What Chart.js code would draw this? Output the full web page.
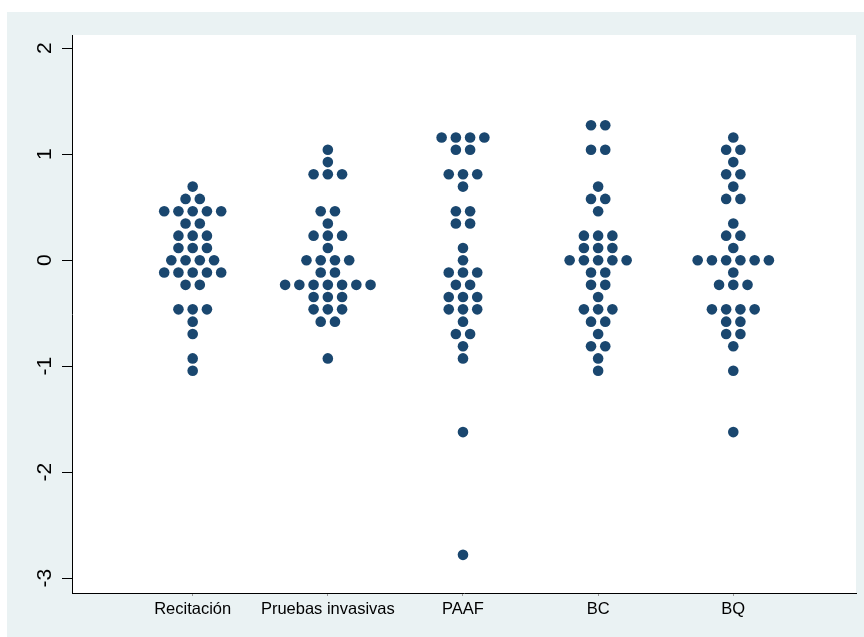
<!DOCTYPE html>
<html lang="es">
<head>
<meta charset="UTF-8">
<title>Dot plot</title>
<script src="https://cdn.jsdelivr.net/npm/chart.js"></script>
<style>
    body { margin: 0; background: #fff; }
    canvas { display: block; }
</style>
</head>
<body>
<canvas id="dotChart" width="864" height="637"></canvas>
<script>
    // categories along the x axis
    const categories = ['Recitación', 'Pruebas invasivas', 'PAAF', 'BC', 'BQ'];

    const recitacion = [
        0.695, 0.579, 0.579,
        0.463, 0.463, 0.463, 0.463, 0.463,
        0.347, 0.347, 0.232, 0.232, 0.232, 0.116, 0.116, 0.116,
        0, 0, 0, 0,
        -0.116, -0.116, -0.116, -0.116, -0.116,
        -0.232, -0.232, -0.463, -0.463, -0.463,
        -0.579, -0.695, -0.926, -1.042
    ];
    const pruebas = [
        1.042, 0.926, 0.811, 0.811, 0.811,
        0.463, 0.463, 0.347, 0.232, 0.232, 0.232, 0.116,
        0, 0, 0, 0,
        -0.116, -0.116,
        -0.232, -0.232, -0.232, -0.232, -0.232, -0.232, -0.232,
        -0.347, -0.347, -0.347, -0.463, -0.463, -0.463,
        -0.579, -0.579, -0.926
    ];
    const paaf = [
        1.158, 1.158, 1.158, 1.158, 1.042, 1.042,
        0.811, 0.811, 0.811, 0.695,
        0.463, 0.463, 0.347, 0.347, 0.116, 0,
        -0.116, -0.116, -0.116, -0.232, -0.232,
        -0.347, -0.347, -0.347, -0.463, -0.463, -0.463,
        -0.579, -0.695, -0.695, -0.811, -0.926,
        -1.621, -2.779
    ];
    const bc = [
        1.274, 1.274, 1.042, 1.042,
        0.695, 0.579, 0.579, 0.463,
        0.232, 0.232, 0.232, 0.116, 0.116, 0.116,
        0, 0, 0, 0, 0,
        -0.116, -0.116, -0.232, -0.232, -0.347,
        -0.463, -0.463, -0.463, -0.579, -0.579,
        -0.695, -0.811, -0.811, -0.926, -1.042
    ];
    const bq = [
        1.158, 1.042, 1.042, 0.926, 0.811, 0.811, 0.695, 0.579, 0.579,
        0.347, 0.232, 0.232, 0.116,
        0, 0, 0, 0, 0, 0,
        -0.116, -0.232, -0.232, -0.232,
        -0.463, -0.463, -0.463, -0.463,
        -0.579, -0.579, -0.695, -0.695, -0.811, -1.042, -1.621
    ];
    const groups = [recitacion, pruebas, paaf, bc, bq];

    const yTicks = [-3, -2, -1, 0, 1, 2];

    // dotplot layout: identical values side by side, centred on the category
    const dotStep = 0.1054;
    function dotsFor(values, pos) {
        const counts = {};
        values.forEach(v => { counts[v] = (counts[v] || 0) + 1; });
        const seen = {};
        return values.map(v => {
            const j = seen[v] || 0;
            seen[v] = j + 1;
            return { x: pos + (j - (counts[v] - 1) / 2) * dotStep, y: v };
        });
    }

    const datasets = groups.map((g, i) => ({
        label: categories[i],
        data: dotsFor(g, i + 1),
        backgroundColor: '#1a476f',
        borderWidth: 0,
        pointRadius: 5.3,
        pointHoverRadius: 5.3
    }));

    const background = {
        id: 'background',
        beforeDraw(chart) {
            const { ctx, chartArea: a } = chart;
            ctx.save();
            ctx.fillStyle = '#ffffff';
            ctx.fillRect(0, 0, chart.width, chart.height);
            ctx.fillStyle = '#eaf2f3';
            ctx.fillRect(7, 12, chart.width - 7, chart.height - 12);
            ctx.fillStyle = '#ffffff';
            ctx.fillRect(a.left, a.top, a.right - a.left, a.bottom - a.top);
            ctx.restore();
        }
    };

    const family = 'Arial, "Liberation Sans", sans-serif';

    new Chart(document.getElementById('dotChart'), {
        type: 'scatter',
        data: { datasets: datasets },
        options: {
            responsive: false,
            animation: false,
            events: [],
            layout: { padding: { top: 35, right: 8, left: 0, bottom: 0 } },
            plugins: { legend: { display: false }, tooltip: { enabled: false } },
            scales: {
                x: {
                    type: 'linear',
                    min: 0.107,
                    max: 5.908,
                    afterBuildTicks: s => { s.ticks = categories.map((c, i) => ({ value: i + 1 })); },
                    afterFit: s => { s.height = 44; },
                    grid: { drawOnChartArea: false, tickLength: 3, color: '#999999' },
                    border: { color: '#000000', width: 1 },
                    ticks: {
                        callback: v => categories[v - 1],
                        color: '#000000',
                        font: { family: family, size: 16.5 },
                        padding: 4,
                        maxRotation: 0,
                        autoSkip: false
                    }
                },
                y: {
                    min: -3.139,
                    max: 2.125,
                    afterBuildTicks: s => { s.ticks = yTicks.map(v => ({ value: v })); },
                    afterFit: s => { s.width = 72; },
                    grid: { drawOnChartArea: false, tickLength: 10, color: '#000000' },
                    border: { color: '#000000', width: 1 },
                    ticks: {
                        color: '#000000',
                        font: { family: family, size: 21 },
                        minRotation: 90,
                        maxRotation: 90,
                        crossAlign: 'center',
                        padding: 7
                    }
                }
            }
        },
        plugins: [background]
    });
</script>
</body>
</html>
